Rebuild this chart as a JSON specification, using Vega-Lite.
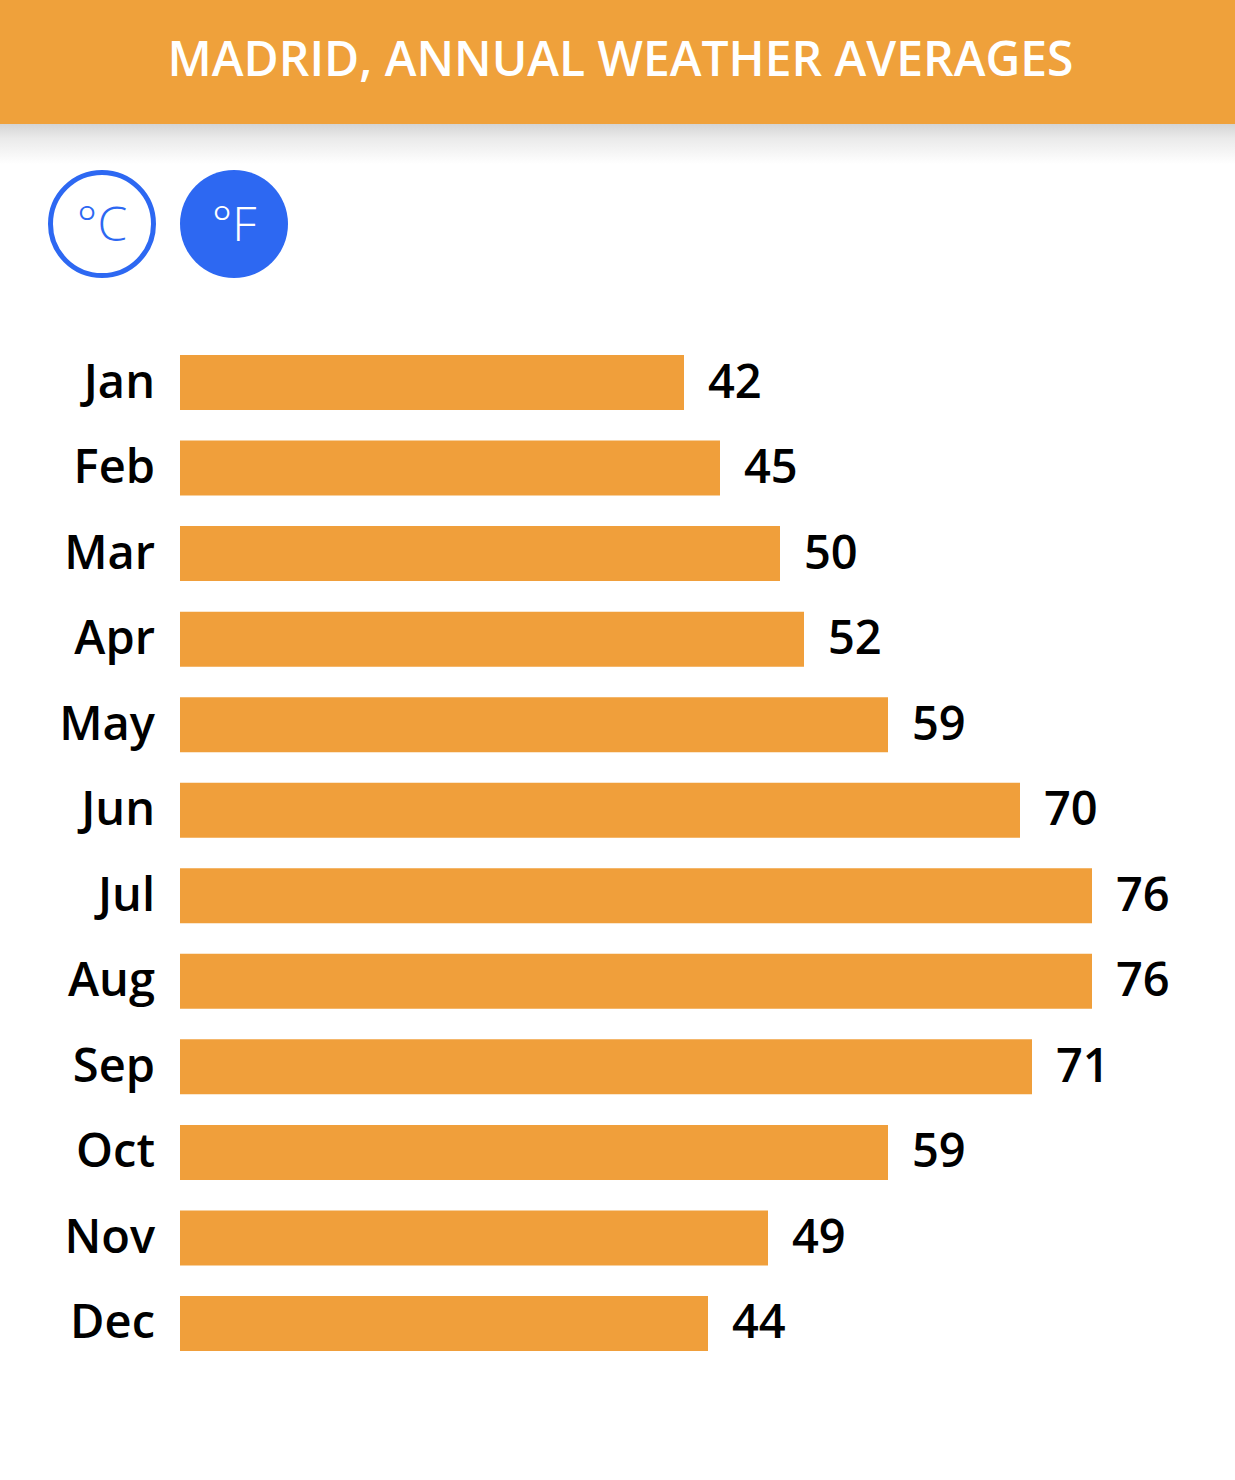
{
  "$schema": "https://vega.github.io/schema/vega-lite/v6.json",
  "padding": 0,
  "spacing": 0,
  "bounds": "flush",
  "background": "#ffffff",
  "config": {"view": {"stroke": null}},
  "vconcat": [
    {
      "width": 1235,
      "height": 124,
      "view": {"fill": "#EFA13B", "stroke": null},
      "data": {"values": [{"title": "MADRID, ANNUAL WEATHER AVERAGES"}]},
      "mark": {"type": "text", "font": "Open Sans", "fontSize": 48, "fontWeight": 600, "color": "#ffffff", "align": "center", "baseline": "middle", "dx": 3, "dy": 0},
      "encoding": {"text": {"field": "title"}}
    },
    {
      "width": 1235,
      "height": 40,
      "data": {"values": [{"a": 0, "b": 1}]},
      "mark": {"type": "rect", "color": {"gradient": "linear", "x1": 0, "y1": 0, "x2": 0, "y2": 1, "stops": [{"offset": 0, "color": "#d4d4d4"}, {"offset": 0.35, "color": "#eaeaea"}, {"offset": 1, "color": "#ffffff"}]}},
      "encoding": {
        "x": {"field": "a", "type": "quantitative", "scale": {"domain": [0, 1], "nice": false}, "axis": null},
        "x2": {"field": "b"},
        "y": {"field": "a", "type": "quantitative", "scale": {"domain": [0, 1], "nice": false}, "axis": null},
        "y2": {"field": "b"}
      }
    },
    {
      "width": 336,
      "height": 120,
      "data": {"values": [{"unit": "°C", "active": false}, {"unit": "°F", "active": true}]},
      "encoding": {
        "x": {"field": "unit", "type": "nominal", "scale": {"type": "point", "domain": ["°C", "°F"], "padding": 0.7727}, "axis": null}
      },
      "layer": [
        {
          "transform": [{"filter": "!datum.active"}],
          "mark": {"type": "point", "shape": "circle", "filled": false, "fill": "#ffffff", "stroke": "#2D68F2", "strokeWidth": 5, "size": 10609, "opacity": 1}
        },
        {
          "transform": [{"filter": "datum.active"}],
          "mark": {"type": "point", "shape": "circle", "filled": true, "color": "#2D68F2", "strokeWidth": 0, "size": 11664, "opacity": 1}
        },
        {
          "mark": {"type": "text", "font": "Open Sans", "fontWeight": 300, "fontSize": 48, "align": "center", "baseline": "middle", "dy": 3},
          "encoding": {
            "text": {"field": "unit"},
            "color": {"condition": {"test": "datum.active", "value": "#ffffff"}, "value": "#2D68F2"}
          }
        }
      ]
    },
    {
      "width": 1235,
      "height": 1138,
      "data": {"values": [
        {"month": "Jan", "temp": 42},
        {"month": "Feb", "temp": 45},
        {"month": "Mar", "temp": 50},
        {"month": "Apr", "temp": 52},
        {"month": "May", "temp": 59},
        {"month": "Jun", "temp": 70},
        {"month": "Jul", "temp": 76},
        {"month": "Aug", "temp": 76},
        {"month": "Sep", "temp": 71},
        {"month": "Oct", "temp": 59},
        {"month": "Nov", "temp": 49},
        {"month": "Dec", "temp": 44}
      ]},
      "encoding": {
        "y": {"field": "month", "type": "nominal", "sort": null, "scale": {"paddingInner": 0.357, "paddingOuter": 0.83}, "axis": null}
      },
      "layer": [
        {
          "mark": {"type": "bar", "color": "#F09F3B"},
          "encoding": {
            "x": {"field": "temp", "type": "quantitative", "scale": {"domain": [-15, 87.9167], "nice": false, "zero": false}, "axis": null},
            "x2": {"datum": 0}
          }
        },
        {
          "mark": {"type": "text", "font": "Open Sans", "fontSize": 47, "fontWeight": 600, "color": "#000000", "align": "left", "baseline": "middle", "dx": 24, "dy": 1},
          "encoding": {
            "x": {"field": "temp", "type": "quantitative"},
            "text": {"field": "temp", "type": "quantitative"}
          }
        },
        {
          "mark": {"type": "text", "font": "Open Sans", "fontSize": 47, "fontWeight": 600, "color": "#000000", "align": "right", "baseline": "middle", "dx": -25, "dy": 1},
          "encoding": {
            "x": {"datum": 0, "type": "quantitative"},
            "text": {"field": "month"}
          }
        }
      ]
    }
  ]
}
